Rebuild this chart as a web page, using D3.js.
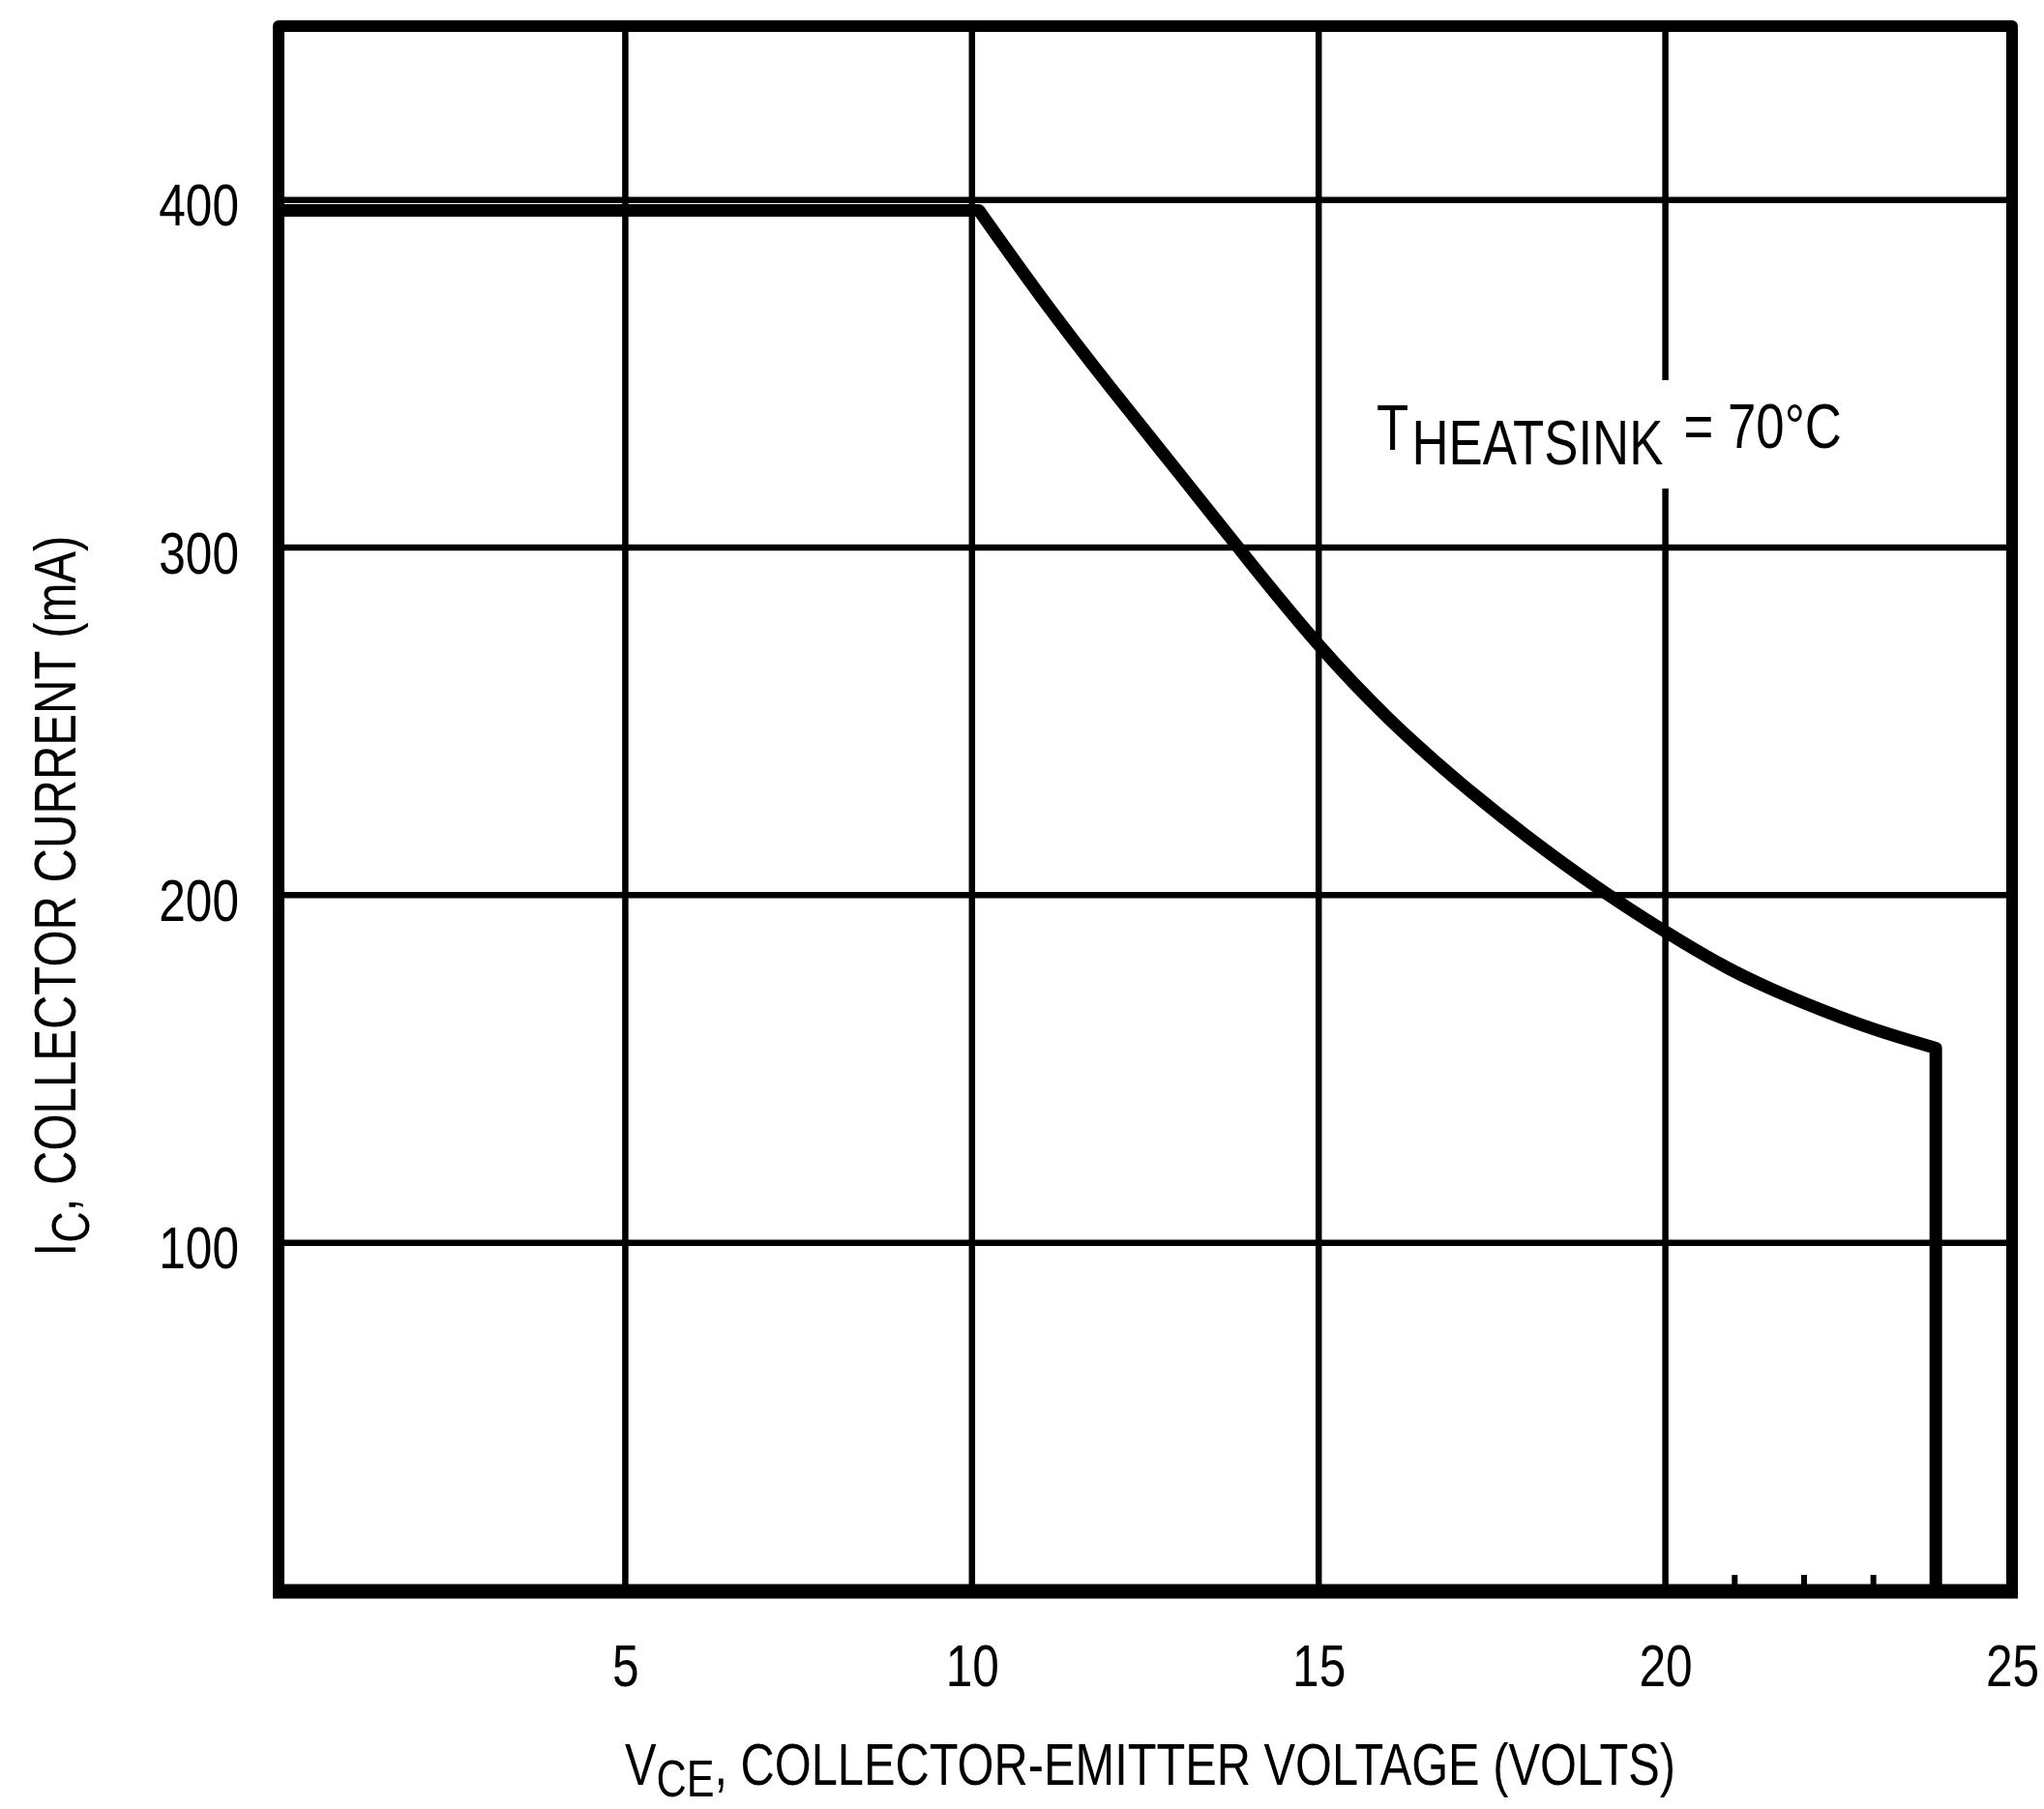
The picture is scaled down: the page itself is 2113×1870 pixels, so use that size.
<!DOCTYPE html>
<html>
<head>
<meta charset="utf-8">
<script src="https://cdn.jsdelivr.net/npm/d3@7"></script>
<style>
  html, body { margin: 0; padding: 0; background: #fff; }
  svg { display: block; }
  text { font-family: "Liberation Sans", Arial, sans-serif; fill: #000; }
</style>
</head>
<body>
<svg id="chart" width="2113" height="1870"></svg>
<script>
// ---- data ----
const xTickValues = [5, 10, 15, 20, 25];
const yTickValues = [100, 200, 300, 400];
const minorXTicks = [21, 22, 23];
const vce = [0, 10.1, 11, 12, 13, 14, 15, 16, 17, 18, 19, 20, 21, 22, 23, 23.9, 23.9];
const ic  = [397, 397, 372, 346, 321, 296, 272, 251, 233, 217, 202.5, 189.5, 178, 169, 161.5, 156, 0];
const xTitle = ["V", "CE", ", COLLECTOR-EMITTER VOLTAGE (VOLTS)"];
const yTitle = ["I", "C", ", COLLECTOR CURRENT (mA)"];
const note = ["T", "HEATSINK", " = 70°C"];

// ---- layout ----
const svg = d3.select("#chart");
const x = d3.scaleLinear().domain([0, 25]).range([288, 2080]);
const y = d3.scaleLinear().domain([0, 450]).range([1644, 27]);
const sx = 0.8;

svg.append("rect").attr("width", 2113).attr("height", 1870).attr("fill", "#fff");

// grid
const grid = svg.append("g").attr("stroke", "#000").attr("stroke-width", 6.5);
grid.selectAll(".vg").data(xTickValues.filter(d => d < 25)).join("line")
  .attr("x1", d => x(d)).attr("x2", d => x(d))
  .attr("y1", y(0)).attr("y2", y(450));
grid.selectAll(".hg").data(yTickValues).join("line")
  .attr("x1", x(0)).attr("x2", x(25))
  .attr("y1", d => y(d)).attr("y2", d => y(d));

// minor ticks on bottom
svg.append("g").attr("stroke", "#000").attr("stroke-width", 6)
  .selectAll("line").data(minorXTicks).join("line")
  .attr("x1", d => x(d)).attr("x2", d => x(d))
  .attr("y1", y(0)).attr("y2", y(0) - 16);

// annotation (white backing breaks the gridline)
const noteG = svg.append("g").attr("transform", "translate(1423,465)");
const noteT = noteG.append("text").attr("x", 0).attr("y", 0);
noteT.append("tspan").attr("font-size", 66).text(note[0]);
noteT.append("tspan").attr("font-size", 64).attr("dy", 15).attr("dx", 4).text(note[1]);
noteT.append("tspan").attr("font-size", 64).attr("dy", -17).attr("dx", 8).text(note[2]);
{
  const w = noteT.node().getBBox().width;
  const s = 481 / w;
  noteG.attr("transform", `translate(1423,465) scale(${s},1)`);
  const bb = noteG.node().getBBox();
  noteG.insert("rect", "text")
    .attr("x", bb.x - 6).attr("y", -72).attr("width", bb.width + 12).attr("height", 112)
    .attr("fill", "#fff");
}

// frame
svg.append("rect")
  .attr("x", x(0)).attr("y", y(450))
  .attr("width", x(25) - x(0)).attr("height", y(0) - y(450))
  .attr("fill", "none").attr("stroke", "#000").attr("stroke-width", 12)
  .attr("stroke-linejoin", "round");
svg.append("line")
  .attr("x1", x(0) - 6).attr("x2", x(25) + 6)
  .attr("y1", y(0) + 1).attr("y2", y(0) + 1)
  .attr("stroke", "#000").attr("stroke-width", 15);

// curve: flat part, smooth part, vertical drop
const pts = vce.map((v, i) => [v, ic[i]]);
const n = pts.length;
const lin = d3.line().x(d => x(d[0])).y(d => y(d[1]));
const smooth = d3.line().x(d => x(d[0])).y(d => y(d[1])).curve(d3.curveNatural);
const dFlat = lin(pts.slice(0, 2));
const dCurve = smooth(pts.slice(1, n - 1)).replace(/^M/, "L");
const dDrop = lin(pts.slice(n - 2)).replace(/^M/, "L");
svg.append("path")
  .attr("d", dFlat + dCurve + dDrop)
  .attr("fill", "none").attr("stroke", "#000").attr("stroke-width", 13)
  .attr("stroke-linejoin", "round");

// axes
const yAxis = svg.append("g").attr("transform", `translate(${x(0)},0)`)
  .call(d3.axisLeft(y).tickValues(yTickValues).tickSize(0).tickFormat(d3.format("d")));
yAxis.select(".domain").remove();
yAxis.selectAll("text")
  .attr("font-size", 62).attr("font-family", "Liberation Sans, Arial, sans-serif")
  .attr("fill", "#000")
  .attr("x", -41 / sx).attr("dy", 26).attr("transform", `scale(${sx},1)`);

const xAxis = svg.append("g").attr("transform", `translate(0,${y(0)})`)
  .call(d3.axisBottom(x).tickValues(xTickValues).tickSize(0).tickFormat(d3.format("d")));
xAxis.select(".domain").remove();
xAxis.selectAll("text")
  .attr("font-size", 62).attr("font-family", "Liberation Sans, Arial, sans-serif")
  .attr("fill", "#000")
  .attr("y", 99).attr("dy", 0).attr("transform", `scale(${sx},1)`);

// x title
const xtG = svg.append("g");
const xt = xtG.append("text").attr("font-size", 61);
xt.append("tspan").text(xTitle[0]);
xt.append("tspan").attr("dy", 12).attr("font-size", 54).text(xTitle[1]);
xt.append("tspan").attr("dy", -12).text(xTitle[2]);
{
  const w = xt.node().getBBox().width;
  xtG.attr("transform", `translate(646,1845) scale(${1086 / w},1)`);
}

// y title
const ytG = svg.append("g");
const yt = ytG.append("text").attr("font-size", 61).attr("text-anchor", "middle");
yt.append("tspan").text(yTitle[0]);
yt.append("tspan").attr("dy", 14).attr("font-size", 56).text(yTitle[1]);
yt.append("tspan").attr("dy", -14).text(yTitle[2]);
{
  const w = yt.node().getBBox().width;
  ytG.attr("transform", `translate(78,926) rotate(-90) scale(${745 / w},1)`);
}
</script>
</body>
</html>
